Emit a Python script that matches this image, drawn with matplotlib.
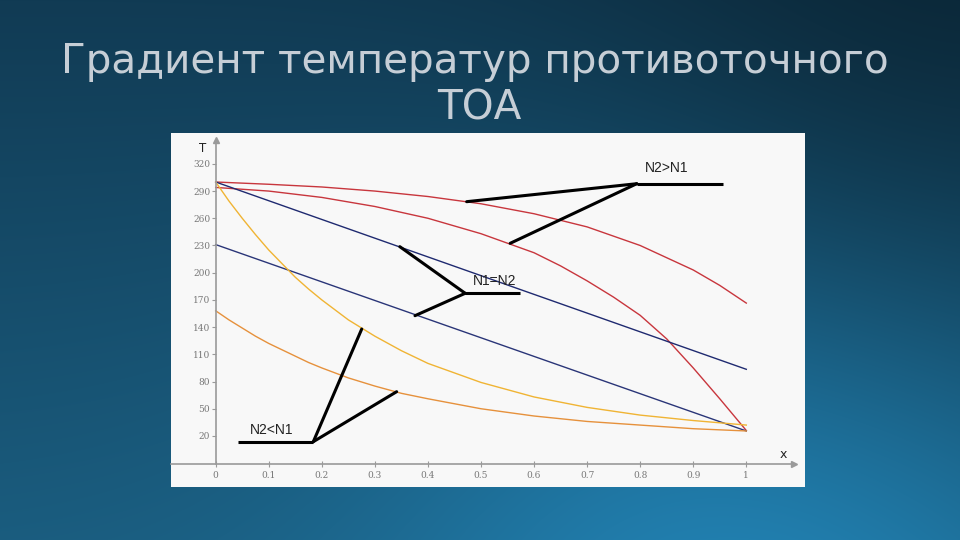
import numpy as np
import matplotlib
matplotlib.use("Agg")
import matplotlib.pyplot as plt
from matplotlib.colors import to_rgb

# --- данные ---
yel_x = [0, 0.025, 0.05, 0.075, 0.1, 0.125, 0.15, 0.175, 0.2, 0.25, 0.3, 0.35,
         0.4, 0.5, 0.6, 0.7, 0.8, 0.9, 1.0]

# N2 > N1 (красные)
red_hi_x = [0, 0.1, 0.2, 0.3, 0.4, 0.5, 0.6, 0.7, 0.8, 0.9, 0.95, 1.0]
red_hi_t = [300, 297.5, 294.5, 290, 284, 276, 265, 250.5, 230, 203, 186, 166.5]
red_lo_x = [0, 0.1, 0.2, 0.3, 0.4, 0.5, 0.6, 0.65, 0.7, 0.75, 0.8, 0.85, 0.9, 0.95, 1.0]
red_lo_t = [294, 290, 283, 273, 260, 243, 222, 207.5, 191, 173, 153, 127, 95, 61, 26]

# N1 = N2 (синие, прямые)
blue_x = [0, 1.0]
blue_hi_t = [300, 93.5]
blue_lo_t = [231, 25.5]

# N2 < N1 (жёлтые)
yel_hi_t = [300, 279, 260, 242, 225, 210, 195, 182, 170, 148, 130, 114,
            100, 79, 63, 51.5, 43, 37, 32]
yel_lo_t = [158, 148, 139, 130, 122, 115, 108, 101, 95, 84, 75, 67,
            61, 50, 42, 36, 32, 28, 25.5]

x_ticks = [0, 0.1, 0.2, 0.3, 0.4, 0.5, 0.6, 0.7, 0.8, 0.9, 1]
x_labels = ["0", "0.1", "0.2", "0.3", "0.4", "0.5", "0.6", "0.7", "0.8", "0.9", "1"]
y_ticks = [20, 50, 80, 110, 140, 170, 200, 230, 260, 290, 320]

# подписи: текст, позиция текста, полка (x0, x1, y), точки, куда ведут линии
labels = ["N2>N1", "N1=N2", "N2<N1"]
label_pos = [(0.809, 310.7), (0.4855, 186.4), (0.0646, 21.8)]
shelves = [(0.7935, 0.9555, 298.1), (0.4702, 0.5735, 177.3), (0.0426, 0.184, 13.7)]
pointers = [
    [(0.473, 278.3), (0.555, 232.4)],
    [(0.347, 228.7), (0.3756, 152.6)],
    [(0.2752, 137.9), (0.341, 68.8)],
]
shelf_side = [0, 0, 1]  # от какого конца полки идут линии

title_1 = "Градиент температур противоточного"
title_2 = "ТОА"

W, H = 960, 540
fig = plt.figure(figsize=(W / 100, H / 100), dpi=100)

# --- фон слайда: синий градиент ---
bg = fig.add_axes([0, 0, 1, 1])
yy, xx = np.mgrid[0:H, 0:W]
top = np.array(to_rgb("#113b54"))
bottom = np.array(to_rgb("#1a5c7e"))
spot = np.array(to_rgb("#2387ba"))
v = (yy / H)[..., None]
img = top + (bottom - top) * v
d2 = ((xx - 760) ** 2 + (yy - 620) ** 2) / 380.0 ** 2
w = np.exp(-d2)[..., None]
img = img * (1 - w) + spot * w
corner = np.exp(-(((xx - W) ** 2 + yy ** 2) / 420.0 ** 2))[..., None]
img = img * (1 - 0.35 * corner)
bg.imshow(np.clip(img, 0, 1), aspect="auto", extent=[0, W, H, 0])
bg.set_axis_off()

fig.text(475 / W, 1 - 73.3 / H, title_1, ha="center", va="baseline",
         fontsize=29.2, color="#c6ced6", family="DejaVu Sans")
fig.text(479 / W, 1 - 120 / H, title_2, ha="center", va="baseline",
         fontsize=29.2, color="#c6ced6", family="DejaVu Sans")

# --- панель с графиком ---
x0, x1, y0, y1 = 171, 805, 133, 487
ax = fig.add_axes([x0 / W, 1 - y1 / H, (x1 - x0) / W, (y1 - y0) / H])
ax.set_facecolor("#f8f8f8")
ax.set_xlim((x0 - 215.7) / 530.6, (x1 - 215.7) / 530.6)
ax.set_ylim((454.1 - y1) / 0.907, (454.1 - y0) / 0.907)

axis_col = "#9a9a9a"
for s in ["top", "right"]:
    ax.spines[s].set_visible(False)
ax.spines["left"].set_position(("data", 0))
ax.spines["bottom"].set_position(("data", -10.5))
ax.spines["left"].set_bounds(-10.5, 344)
ax.spines["bottom"].set_bounds(ax.get_xlim()[0], 1.085)
for s in ["left", "bottom"]:
    ax.spines[s].set_color(axis_col)
    ax.spines[s].set_linewidth(1.2)
ax.plot(1.09, -10.5, ">", ms=5, color=axis_col, clip_on=False)
ax.plot(0, 346, "^", ms=5, color=axis_col, clip_on=False)

ax.set_xticks(x_ticks)
ax.set_xticklabels(x_labels)
ax.set_yticks(y_ticks)
ax.tick_params(axis="x", direction="inout", length=4, color=axis_col, pad=3,
               labelsize=6.5, labelcolor="#777777")
ax.tick_params(axis="y", direction="out", length=3, color=axis_col, pad=1,
               labelsize=6.5, labelcolor="#777777")
for lab in ax.get_xticklabels() + ax.get_yticklabels():
    lab.set_family("DejaVu Serif")

ax.text(-0.0315, 333.6, "T", fontsize=8.5, color="#222222", va="baseline")
ax.text(1.0705, -4.6, "x", fontsize=9, color="#222222", ha="center", va="baseline")

# кривые
red = "#c8363d"
ax.plot(red_hi_x, red_hi_t, color=red, lw=1.0)
ax.plot(red_lo_x, red_lo_t, color=red, lw=1.0)
ax.plot(blue_x, blue_hi_t, color="#1f2a70", lw=1.0)
ax.plot(blue_x, blue_lo_t, color="#2a3578", lw=1.0)
ax.plot(yel_x, yel_hi_t, color="#f0b434", lw=1.0)
ax.plot(yel_x, yel_lo_t, color="#e6913c", lw=1.0)

# выноски
for lab, (tx, ty), (sx0, sx1, sy), pts, side in zip(labels, label_pos, shelves,
                                                      pointers, shelf_side):
    ax.plot([sx0, sx1], [sy, sy], color="black", lw=2.2, solid_capstyle="butt")
    hx = sx1 if side else sx0
    for px, py in pts:
        ax.plot([hx, px], [sy, py], color="black", lw=2.2, solid_capstyle="round")
    ax.text(tx, ty, lab, fontsize=10, color="#222222", va="baseline",
            family="Liberation Sans")

fig.savefig("out.png", dpi=100)
